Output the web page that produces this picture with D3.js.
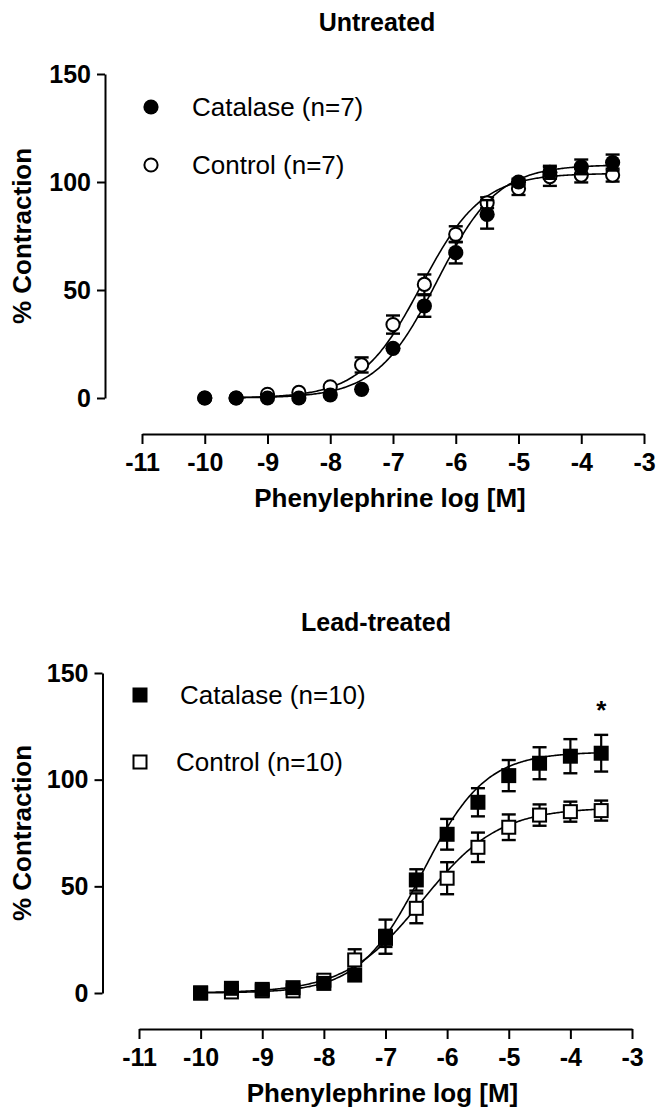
<!DOCTYPE html>
<html><head><meta charset="utf-8">
<script src="https://cdn.jsdelivr.net/npm/d3@7"></script>
<style>body{margin:0;background:#fff;} svg{display:block;font-family:"Liberation Sans",Arial,sans-serif;}</style>
</head><body><svg id="c" width="659" height="1115"></svg>
<script>
// ---------- data ----------
const logDose = [-10,-9.5,-9,-8.5,-8,-7.5,-7,-6.5,-6,-5.5,-5,-4.5,-4,-3.5];
const xTicks = [-11,-10,-9,-8,-7,-6,-5,-4,-3];
const yTicks = [0,50,100,150];

const untreatedCatalase    = [0,0,0,0,1.4,4,23,42.6,67.3,85,100,104.5,107,109];
const untreatedCatalaseSem = [0,0,0,0,0,0,0,5,5,6.6,1.5,3,3.4,3.7];
const untreatedControl     = [0,0,1.7,2.6,5.2,15.3,34,52.6,75.8,90.4,97,102.5,103.2,103.2];
const untreatedControlSem  = [0,0,0,0,0,3.5,4.2,4.6,3.7,2.5,3,4.3,3.4,3];

const leadCatalase    = [0,2.2,1.7,2.5,4.5,8.4,26.4,53,74.4,89.4,101.9,107.7,111,112.4];
const leadCatalaseSem = [0,0,0,0,0,0,8,5,7.2,6.6,7.3,7.5,8,8.6];
const leadControl     = [0,0.5,1,1,6,15.5,25.6,39.7,53.8,68.3,77.7,83.4,85,85.5];
const leadControlSem  = [0,0,0,0,0,5,4,7,7.5,6.9,6,5,4.7,4.7];

// fitted sigmoid parameters: [bottom, top, logEC50, hillSlope]
const fitUntreatedCatalase = [0,108,-6.3,0.9];
const fitUntreatedControl  = [0,104,-6.55,0.9];
const fitLeadCatalase      = [0,113,-6.4,0.85];
const fitLeadControl       = [0,87,-6.4,0.7];

const legendUntreated = ["Catalase (n=7)","Control (n=7)"];
const legendLead      = ["Catalase (n=10)","Control (n=10)"];
const titles = ["Untreated","Lead-treated"];
const xLabel = "Phenylephrine log [M]";
const yLabel = "% Contraction";
const starDose = -3.5, starValue = 134;

// ---------- drawing ----------
const svg = d3.select("#c");

function panel(cfg){
  const g = svg.append("g");
  const x = d3.scaleLinear().domain([-11,-3]).range([cfg.x0,cfg.x1]);
  const y = d3.scaleLinear().domain([0,150]).range([cfg.y0,cfg.y150]);

  g.append("text").attr("x",cfg.titleX).attr("y",cfg.titleY).attr("text-anchor","middle")
    .attr("font-weight","bold").attr("font-size",25).text(cfg.title);

  const ya = g.append("g").attr("transform",`translate(${cfg.yAxisX},0)`)
    .call(d3.axisLeft(y).tickValues(yTicks).tickSize(8).tickPadding(6).tickSizeOuter(0));
  ya.select(".domain").attr("stroke","#000").attr("stroke-width",2);
  ya.selectAll(".tick line").attr("stroke","#000").attr("stroke-width",2);
  ya.selectAll(".tick text").attr("font-size",25).attr("font-weight","bold").attr("fill","#000")
    .attr("font-family","Liberation Sans, Arial, sans-serif");

  const xa = g.append("g").attr("transform",`translate(0,${cfg.xAxisY})`)
    .call(d3.axisBottom(x).tickValues(xTicks).tickSize(10).tickPadding(9).tickSizeOuter(0));
  xa.select(".domain").attr("stroke","#000").attr("stroke-width",2);
  xa.selectAll(".tick line").attr("stroke","#000").attr("stroke-width",2);
  xa.selectAll(".tick text").attr("font-size",25).attr("font-weight","bold").attr("fill","#000")
    .attr("font-family","Liberation Sans, Arial, sans-serif").text(d=>String(d));

  g.append("text").attr("x",(cfg.x0+cfg.x1)/2 - 3).attr("y",cfg.xLabelY).attr("text-anchor","middle")
    .attr("font-weight","bold").attr("font-size",26).text(xLabel);
  g.append("text").attr("transform",`translate(${cfg.yLabelX},${(cfg.y0+cfg.y150)/2}) rotate(-90)`)
    .attr("text-anchor","middle").attr("font-weight","bold").attr("font-size",26).text(yLabel);

  const hill = p => d => p[0] + (p[1]-p[0])/(1+Math.pow(10,(p[2]-d)*p[3]));
  const line = d3.line().x(d=>x(d[0])).y(d=>y(d[1]));
  cfg.series.forEach(s=>{
    const f = hill(s.fit);
    const pts = d3.range(s.curveFrom, -3.5+0.0001, 0.02).map(d=>[d,f(d)]);
    g.append("path").attr("d",line(pts)).attr("fill","none").attr("stroke","#000").attr("stroke-width",1.6);
  });

  cfg.series.slice().reverse().forEach(s=>{
    const eg = g.append("g");
    logDose.forEach((d,i)=>{
      const e = s.sem[i]; if(!e) return;
      const cx = x(d);
      eg.append("line").attr("x1",cx).attr("x2",cx).attr("y1",y(s.values[i]-e)).attr("y2",y(s.values[i]+e))
        .attr("stroke","#000").attr("stroke-width",2.2);
      [s.values[i]-e, s.values[i]+e].forEach(v=>{
        eg.append("line").attr("x1",cx-7).attr("x2",cx+7).attr("y1",y(v)).attr("y2",y(v))
          .attr("stroke","#000").attr("stroke-width",2.4);
      });
    });
    logDose.forEach((d,i)=>{
      drawMarker(g, cfg.shape, s.filled, x(d), y(s.values[i]));
    });
  });

  cfg.legend.forEach((lab,i)=>{
    drawMarker(g, cfg.shape, i===0, cfg.legX, cfg.legY[i]);
    g.append("text").attr("x",cfg.legTextX[i]).attr("y",cfg.legY[i]+9).attr("font-size",26).text(lab);
  });

  if(cfg.star){
    g.append("text").attr("x",x(starDose)).attr("y",y(starValue)+12).attr("text-anchor","middle")
      .attr("font-size",26).attr("font-weight","bold").text("*");
  }
}

function drawMarker(g, shape, filled, cx, cy){
  if(shape==="circle"){
    g.append("circle").attr("cx",cx).attr("cy",cy).attr("r",filled?7.6:6.6)
      .attr("fill",filled?"#000":"#fff").attr("stroke","#000").attr("stroke-width",filled?0:2);
  } else {
    const s = filled?15:13;
    g.append("rect").attr("x",cx-s/2).attr("y",cy-s/2).attr("width",s).attr("height",s)
      .attr("fill",filled?"#000":"#fff").attr("stroke","#000").attr("stroke-width",filled?0:2);
  }
}

panel({
  title:titles[0], titleX:377, titleY:31,
  x0:142, x1:644, y0:398, y150:74, yAxisX:105, xAxisY:434, xLabelY:507, yLabelX:31,
  shape:"circle",
  series:[
    {values:untreatedCatalase, sem:untreatedCatalaseSem, fit:fitUntreatedCatalase, filled:true, curveFrom:-9.5},
    {values:untreatedControl, sem:untreatedControlSem, fit:fitUntreatedControl, filled:false, curveFrom:-9.5}
  ],
  legend:legendUntreated, legX:151, legY:[107,165], legTextX:[192,192]
});

panel({
  title:titles[1], titleX:376, titleY:631,
  x0:139, x1:632, y0:993, y150:673, yAxisX:102.5, xAxisY:1029, xLabelY:1102, yLabelX:31,
  shape:"square",
  series:[
    {values:leadCatalase, sem:leadCatalaseSem, fit:fitLeadCatalase, filled:true, curveFrom:-10},
    {values:leadControl, sem:leadControlSem, fit:fitLeadControl, filled:false, curveFrom:-10}
  ],
  legend:legendLead, legX:140, legY:[695,762], legTextX:[180,176],
  star:true
});
</script></body></html>
